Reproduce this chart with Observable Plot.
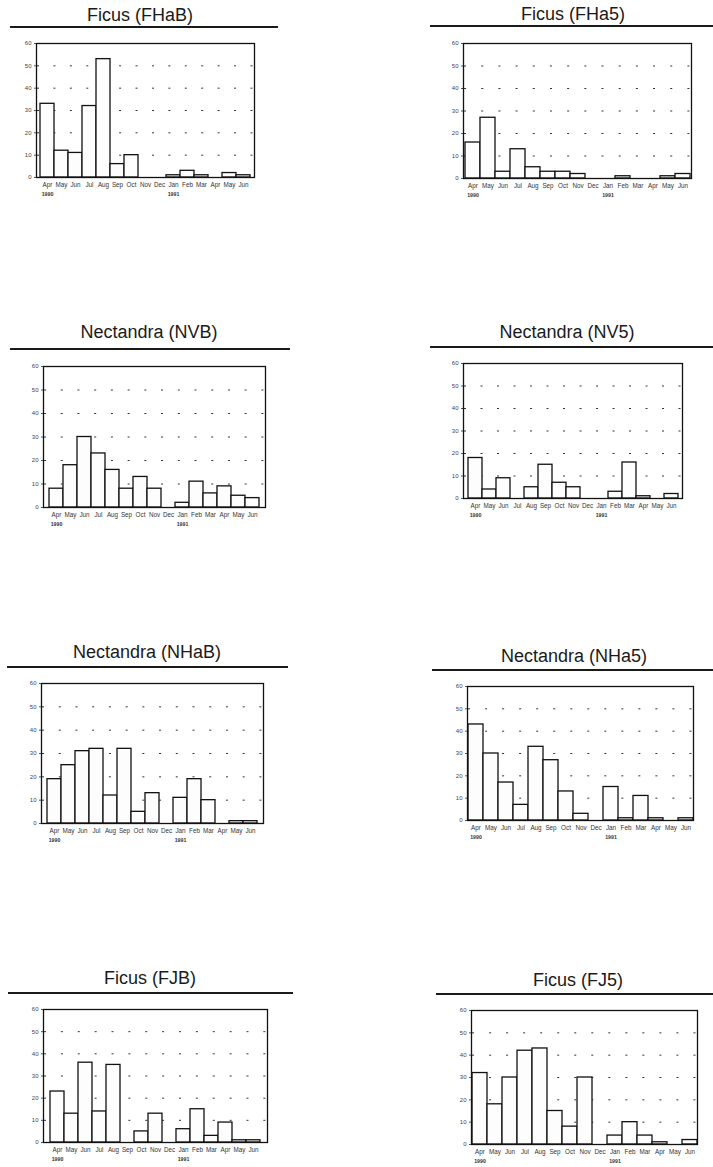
<!DOCTYPE html>
<html><head><meta charset="utf-8">
<script src="https://cdn.jsdelivr.net/npm/d3@7"></script>
<script src="https://cdn.jsdelivr.net/npm/@observablehq/plot@0.6"></script>
<style>
body{margin:0;background:#fff;font-family:"Liberation Sans",Arial,sans-serif;}
#wrap{position:relative;width:713px;height:1167px;overflow:hidden;background:#fff;}
.title{position:absolute;width:320px;text-align:center;font-size:18px;line-height:18px;color:#1a1a1a;white-space:nowrap;}
.rule{position:absolute;height:1.5px;background:#1a1a1a;}
.panel{position:absolute;}
</style></head><body><div id="wrap"></div>
<script>
// ---- data ----
const months = ["Apr","May","Jun","Jul","Aug","Sep","Oct","Nov","Dec","Jan","Feb","Mar","Apr","May","Jun"];
const yearLabels = ["1990","1991"];
const yearPositions = [0, 9];
const yTicks = [0, 10, 20, 30, 40, 50, 60];
const gridValues = [10, 20, 30, 40, 50];
const titles = ["Ficus (FHaB)","Ficus (FHa5)","Nectandra (NVB)","Nectandra (NV5)","Nectandra (NHaB)","Nectandra (NHa5)","Ficus (FJB)","Ficus (FJ5)"];
const FHaB = [33,12,11,32,53,6,10,0,0,1,3,1,0,2,1];
const FHa5 = [16,27,3,13,5,3,3,2,0,0,1,0,0,1,2];
const NVB  = [8,18,30,23,16,8,13,8,0,2,11,6,9,5,4];
const NV5  = [18,4,9,0,5,15,7,5,0,0,3,16,1,0,2];
const NHaB = [19,25,31,32,12,32,5,13,0,11,19,10,0,1,1];
const NHa5 = [43,30,17,7,33,27,13,3,0,15,1,11,1,0,1];
const FJB  = [23,13,36,14,35,0,5,13,0,6,15,3,9,1,1];
const FJ5  = [32,18,30,42,43,15,8,30,0,4,10,4,1,0,2];
const series = [FHaB, FHa5, NVB, NV5, NHaB, NHa5, FJB, FJ5];

// ---- layout (pixel geometry of each panel) ----
const layout = [
  {L:36, R:254, T:43, B:177, tcx:140, tcy:15, uy:26, ux1:10, ux2:278},
  {L:463, R:691, T:43, B:178, tcx:573, tcy:14, uy:25, ux1:430, ux2:713},
  {L:43, R:265, T:366, B:507, tcx:149, tcy:332, uy:348, ux1:10, ux2:290},
  {L:463, R:682, T:363, B:498, tcx:567, tcy:332, uy:346, ux1:430, ux2:713},
  {L:41, R:263, T:683, B:823, tcx:147, tcy:652, uy:666, ux1:7, ux2:288},
  {L:467, R:693, T:686, B:820, tcx:574, tcy:656, uy:669, ux1:432, ux2:713},
  {L:43, R:267, T:1009, B:1142, tcx:150, tcy:978, uy:992, ux1:8, ux2:293},
  {L:471, R:697, T:1010, B:1144, tcx:578, tcy:980, uy:993, ux1:436, ux2:713}
];

const wrap = document.getElementById("wrap");
const mL = 22, mR = 4, mT = 6, mB = 26;

series.forEach((vals, k) => {
  const g = layout[k];
  const t = document.createElement("div");
  t.className = "title";
  t.textContent = titles[k];
  t.style.left = (g.tcx - 160) + "px";
  t.style.top = (g.tcy - 9) + "px";
  wrap.appendChild(t);
  const u = document.createElement("div");
  u.className = "rule";
  u.style.left = g.ux1 + "px";
  u.style.width = (g.ux2 - g.ux1) + "px";
  u.style.top = g.uy + "px";
  wrap.appendChild(u);

  const fw = g.R - g.L, fh = g.B - g.T;
  const step = fw / 15;
  const chart = Plot.plot({
    width: fw + mL + mR,
    height: fh + mT + mB,
    marginLeft: mL, marginRight: mR, marginTop: mT, marginBottom: mB,
    style: {background: "transparent", overflow: "visible", fontFamily: "Liberation Sans, Arial, sans-serif"},
    x: {type: "band", domain: d3.range(months.length), padding: 0, axis: null},
    y: {domain: [0, 60], axis: null},
    marks: [
      Plot.ruleY(gridValues, {stroke: "#333", strokeWidth: 1, strokeDasharray: `2 ${(step * 1.13 - 2).toFixed(2)}`, strokeDashoffset: -(step * 1.2) + step * 1.13 * 2}),
      Plot.barY(vals, {x: (d, i) => i, y: d => d, fill: "#fdfdfd", stroke: "#111", strokeWidth: 1.3}),
      Plot.frame({stroke: "#111", strokeWidth: 1.3}),
      Plot.axisY(yTicks, {tickSize: 2, tickPadding: 3, fontSize: 6, stroke: "#555", fill: "#444", tickFormat: d => String(d)}),
      Plot.axisX(d3.range(months.length), {tickSize: 0, tickPadding: 5, fontSize: 6.3, fill: "#333", tickFormat: i => months[i]}),
      Plot.text(yearLabels, {x: (d, i) => yearPositions[i], y: () => 0, dy: 17, text: d => d, fontSize: 5.2, fontWeight: "bold", fill: "#333"})
    ]
  });
  chart.classList.add("panel");
  chart.style.left = (g.L - mL) + "px";
  chart.style.top = (g.T - mT) + "px";
  wrap.appendChild(chart);
});
</script></body></html>
